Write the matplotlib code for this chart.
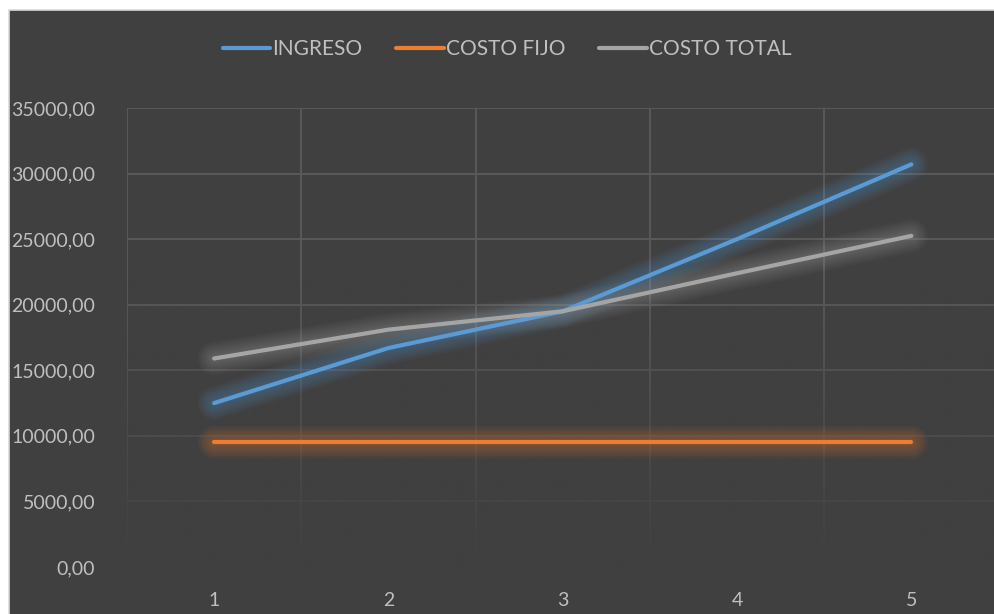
import numpy as np
import matplotlib
matplotlib.use("Agg")
import matplotlib.pyplot as plt
from matplotlib.patches import Rectangle
from matplotlib.ticker import FuncFormatter

# datos del gráfico
periodos = [1, 2, 3, 4, 5]
ingreso = [12500, 16700, 19500, 25000, 30700]
costo_fijo = [9500, 9500, 9500, 9500, 9500]
costo_total = [15900, 18100, 19500, 22400, 25250]

series = [
    ("INGRESO", ingreso, "#5B9BD5"),
    ("COSTO FIJO", costo_fijo, "#ED7D31"),
    ("COSTO TOTAL", costo_total, "#A5A5A5"),
]

BG = "#404040"
TXT = "#BFBFBF"
GRID = "#595959"

plt.rcParams["font.family"] = ["Lato", "DejaVu Sans"]

fig = plt.figure(figsize=(9.95, 6.14), dpi=100)
fig.patch.set_facecolor("white")

# fondo del área del gráfico
fig.patches.append(Rectangle((9 / 995, -0.01), 1.0, 1 - 10 / 614 + 0.01,
                             transform=fig.transFigure, facecolor=BG,
                             edgecolor="#D9D9D9", linewidth=1.2, zorder=-5))

ax = fig.add_axes([127 / 995, 1 - 567 / 614, 871.5 / 995, (567 - 108) / 614])
ax.set_zorder(1)
ax.patch.set_alpha(0)

ax.set_xlim(0.5, 5.5)
ax.set_ylim(0, 35000)
ax.set_yticks(np.arange(0, 35001, 5000))
ax.set_xticks(periodos)
ax.yaxis.set_major_formatter(FuncFormatter(lambda v, p: f"{v:.2f}".replace(".", ",")))

# líneas de división
for v in range(5000, 35001, 5000):
    ax.axhline(v, color=GRID, lw=1.4, zorder=1)
for xv in np.arange(0.5, 5.6, 1.0):
    ax.axvline(xv, color=GRID, lw=1.4, zorder=1)

# las divisiones se desvanecen hacia abajo
n = 400
yy = np.linspace(35000, 0, n)
alpha = np.clip((22000 - yy) / 22000, 0, 1)
grad = np.zeros((n, 1, 4))
grad[..., :3] = matplotlib.colors.to_rgb(BG)
grad[:, 0, 3] = alpha
ax.imshow(grad, extent=[0.5, 5.5, 0, 35000], aspect="auto", zorder=2,
          origin="upper", interpolation="bilinear")

for nombre, vals, color in series:
    # resplandor suave alrededor de cada línea
    for w in np.linspace(24, 5, 10):
        ax.plot(periodos, vals, color=color, lw=w, alpha=0.04,
                solid_capstyle="round", solid_joinstyle="round", zorder=3)
    ax.plot(periodos, vals, color=color, lw=3.0, label=nombre,
            solid_capstyle="round", solid_joinstyle="round", zorder=4)

for s in ax.spines.values():
    s.set_visible(False)
ax.tick_params(axis="both", length=0, labelsize=14, colors=TXT)
ax.tick_params(axis="y", pad=23)
ax.tick_params(axis="x", pad=18)

handles = [plt.Line2D([], [], color=c, lw=3.0, solid_capstyle="round")
           for _, _, c in series]
leg = fig.legend(handles, [s[0] for s in series], loc="center",
                 bbox_to_anchor=(507 / 995, 1 - 49 / 614), ncol=3,
                 frameon=False, fontsize=15, handlelength=2.3,
                 handletextpad=0.1, columnspacing=1.6)
for t in leg.get_texts():
    t.set_color(TXT)

fig.savefig("out.png", dpi=100, facecolor=fig.get_facecolor())
